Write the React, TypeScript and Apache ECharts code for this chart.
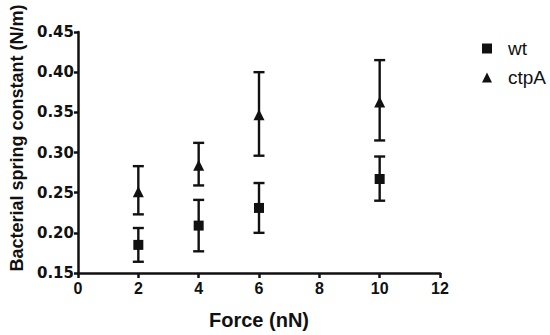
import React, { useEffect, useRef } from "react";
import * as echarts from "echarts";

const forces = [2, 4, 6, 10];
const wtMean = [0.185, 0.209, 0.231, 0.267];
const wtLow = [0.164, 0.177, 0.2, 0.24];
const wtHigh = [0.206, 0.241, 0.262, 0.295];
const ctpMean = [0.251, 0.284, 0.347, 0.363];
const ctpLow = [0.223, 0.259, 0.296, 0.315];
const ctpHigh = [0.283, 0.312, 0.4, 0.415];

const SANS = "Liberation Sans, Arial, sans-serif";
const WIDE = "DejaVu Sans, sans-serif";
const INK = "#111";

function errorSeries(low: number[], high: number[]) {
  return {
    type: "custom",
    silent: true,
    z: 1,
    data: forces.map((f, i) => [f, low[i], high[i]]),
    renderItem: (params: any, api: any) => {
      const x = api.value(0);
      const lo = api.coord([x, api.value(1)]);
      const hi = api.coord([x, api.value(2)]);
      const cap = 5.5;
      const style = { stroke: INK, lineWidth: 2.4 };
      return {
        type: "group",
        children: [
          { type: "line", shape: { x1: lo[0], y1: lo[1], x2: hi[0], y2: hi[1] }, style },
          { type: "line", shape: { x1: lo[0] - cap, y1: lo[1], x2: lo[0] + cap, y2: lo[1] }, style },
          { type: "line", shape: { x1: hi[0] - cap, y1: hi[1], x2: hi[0] + cap, y2: hi[1] }, style },
        ],
      };
    },
  };
}

export default function App() {
  const ref = useRef<HTMLDivElement>(null);
  useEffect(() => {
    const chart = echarts.init(ref.current!, null, { renderer: "svg" });
    chart.setOption({
      animation: false,
      backgroundColor: "#fff",
      grid: { left: 75, right: 110, top: 32, bottom: 62, containLabel: false },
      legend: {
        orient: "vertical",
        right: 4,
        top: 39,
        padding: 0,
        itemGap: 10,
        itemWidth: 10,
        itemHeight: 10,
        textStyle: { fontFamily: SANS, fontSize: 19, color: INK, padding: [0, 0, 0, 11] },
        data: [
          { name: "wt", icon: "rect" },
          { name: "ctpA", icon: "triangle" },
        ],
      },
      xAxis: {
        type: "value",
        min: 0,
        max: 12,
        interval: 2,
        name: "Force (nN)",
        nameLocation: "middle",
        nameGap: 37,
        nameTextStyle: { fontFamily: SANS, fontSize: 20, fontWeight: "bold", color: INK },
        axisLine: { lineStyle: { color: INK, width: 2.5 } },
        axisTick: { length: 5, lineStyle: { color: INK, width: 2.5 } },
        axisLabel: { fontFamily: SANS, fontSize: 16, fontWeight: "bold", color: INK, margin: 7 },
        splitLine: { show: false },
      },
      yAxis: {
        type: "value",
        min: 0.15,
        max: 0.45,
        interval: 0.05,
        name: "Bacterial spring constant (N/m)",
        nameLocation: "middle",
        nameGap: 52,
        nameTextStyle: {
          fontFamily: SANS,
          fontSize: 18,
          fontWeight: "bold",
          color: INK,
          padding: [0, 0, 0, 29],
        },
        axisLine: { show: true, lineStyle: { color: INK, width: 2.5 } },
        axisTick: { show: true, length: 4, lineStyle: { color: INK, width: 2.5 } },
        axisLabel: {
          fontFamily: WIDE,
          fontSize: 15,
          fontWeight: "bold",
          color: INK,
          margin: 4,
          formatter: (v: number) => v.toFixed(2),
        },
        splitLine: { show: false },
      },
      series: [
        errorSeries(wtLow, wtHigh),
        errorSeries(ctpLow, ctpHigh),
        {
          name: "wt",
          type: "scatter",
          symbol: "rect",
          symbolSize: 10,
          z: 3,
          itemStyle: { color: INK, opacity: 1 },
          data: forces.map((f, i) => [f, wtMean[i]]),
        },
        {
          name: "ctpA",
          type: "scatter",
          symbol: "triangle",
          symbolSize: 11,
          z: 3,
          itemStyle: { color: INK, opacity: 1 },
          data: forces.map((f, i) => [f, ctpMean[i]]),
        },
      ],
    });
    return () => chart.dispose();
  }, []);
  return (
    <div
      ref={ref}
      style={{ position: "fixed", left: 0, top: 0, width: 550, height: 335, background: "#fff" }}
    />
  );
}
